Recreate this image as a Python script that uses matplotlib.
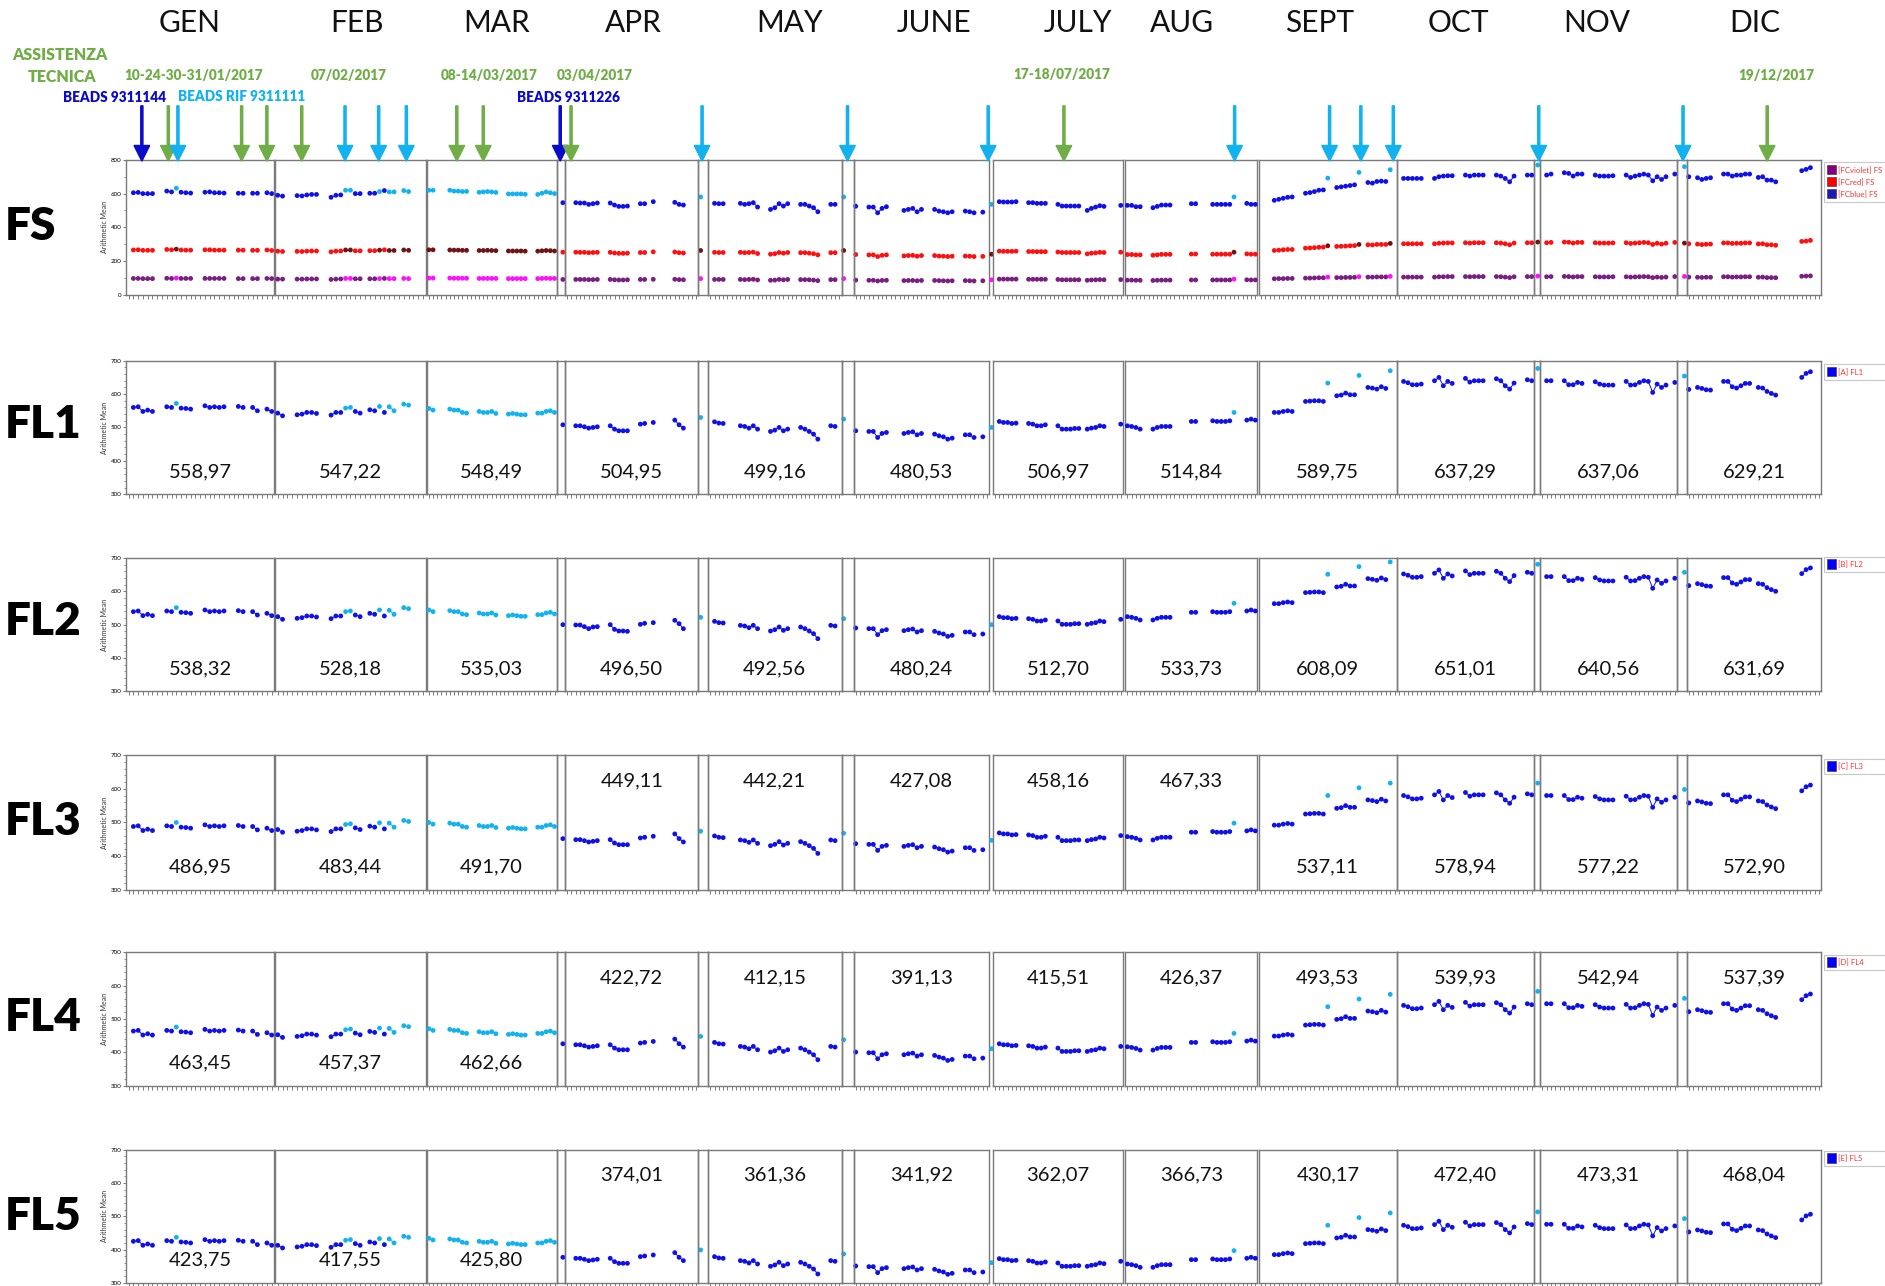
import matplotlib.pyplot as plt
from matplotlib.patches import Rectangle, FancyArrow

plt.rcParams['font.family'] = ['Lato', 'DejaVu Sans']

# reference drawn in a 1568 x 1069.5 grid, figure is 1885 x 1286
W, H = 1568, 1069.5

MONTHS = ['GEN', 'FEB', 'MAR', 'APR', 'MAY', 'JUNE', 'JULY', 'AUG', 'SEPT', 'OCT', 'NOV', 'DIC']

# measurement days inside each month panel (0 / 32 = point in the gap next to the panel)
DAYS = [
    [2, 3, 4, 5, 6, 9, 10, 11, 12, 13, 14, 17, 18, 19, 20, 21, 24, 25, 27, 28, 30, 31],
    [1, 2, 5, 6, 7, 8, 9, 12, 13, 14, 15, 16, 17, 18, 20, 21, 22, 23, 24, 25, 27, 28],
    [1, 2, 6, 7, 8, 9, 10, 13, 14, 15, 16, 17, 20, 21, 22, 23, 24, 27, 28, 29, 30, 31],
    [0, 3, 4, 5, 6, 7, 8, 11, 12, 13, 14, 15, 18, 19, 21, 26, 27, 28, 32],
    [2, 3, 4, 8, 9, 10, 11, 12, 15, 16, 17, 18, 19, 22, 23, 24, 25, 26, 29, 30, 32],
    [1, 4, 5, 6, 7, 8, 12, 13, 14, 15, 16, 19, 20, 21, 22, 23, 26, 27, 28, 30, 32],
    [2, 3, 4, 5, 6, 9, 10, 11, 12, 13, 16, 17, 18, 19, 20, 21, 23, 24, 25, 26, 27, 31],
    [1, 2, 3, 4, 7, 8, 9, 10, 11, 16, 17, 21, 22, 23, 24, 25, 26, 29, 30, 31],
    [4, 5, 6, 7, 8, 11, 12, 13, 14, 15, 16, 18, 19, 20, 21, 22, 23, 25, 26, 27, 28, 29, 30],
    [2, 3, 4, 5, 6, 9, 10, 11, 12, 13, 16, 17, 18, 19, 20, 23, 24, 25, 26, 27, 30, 31],
    [0, 2, 3, 6, 7, 8, 9, 10, 13, 14, 15, 16, 17, 20, 21, 22, 23, 24, 25, 26, 27, 28, 29, 31],
    [0, 1, 3, 4, 5, 6, 9, 10, 11, 12, 13, 14, 15, 17, 18, 19, 20, 21, 27, 28, 29],
]

# indexes of the points measured with reference beads (BEADS RIF)
RIF = [
    [7],
    [10, 11, 16, 18, 19, 20, 21],
    list(range(22)),
    [18],
    [20],
    [20],
    [],
    [16],
    [10, 16, 22],
    [],
    [0],
    [0],
]

FS_BLUE = [
    [605, 607, 600, 600, 600, 615, 610, 632, 608, 605, 603, 608, 610, 605, 605, 603, 602, 602, 602, 602, 605, 600],
    [590, 585, 588, 586, 592, 595, 595, 578, 590, 592, 620, 620, 600, 600, 602, 602, 612, 618, 610, 610, 618, 612],
    [620, 620, 620, 615, 615, 612, 613, 608, 610, 612, 610, 607, 598, 598, 598, 598, 596, 595, 602, 610, 605, 600],
    [546, 546, 544, 544, 536, 540, 544, 544, 532, 524, 524, 526, 540, 540, 552, 548, 536, 532, 580],
    [542, 540, 540, 542, 536, 540, 546, 520, 506, 516, 540, 526, 540, 536, 536, 526, 516, 492, 536, 536, 580],
    [525, 520, 520, 486, 512, 522, 500, 506, 512, 492, 506, 506, 496, 492, 486, 492, 496, 492, 486, 490, 536],
    [552, 550, 550, 550, 552, 546, 546, 542, 542, 542, 536, 526, 526, 526, 526, 526, 500, 512, 520, 528, 524, 530],
    [530, 530, 522, 522, 516, 524, 532, 532, 532, 540, 540, 536, 536, 536, 536, 536, 580, 542, 536, 536],
    [560, 566, 572, 578, 580, 602, 606, 612, 620, 622, 692, 636, 640, 644, 648, 652, 726, 666, 662, 672, 674, 672, 742],
    [690, 690, 690, 690, 690, 690, 700, 704, 706, 706, 710, 704, 710, 710, 710, 710, 704, 690, 670, 704, 710, 710],
    [770, 710, 716, 724, 720, 704, 716, 716, 710, 704, 704, 704, 706, 710, 696, 704, 710, 716, 710, 676, 700, 684, 700, 716],
    [760, 700, 694, 684, 690, 694, 716, 716, 704, 710, 710, 716, 716, 696, 700, 680, 680, 670, 736, 744, 754],
]

FS_RED = [
    [265, 266, 263, 263, 263, 268, 266, 270, 265, 264, 264, 266, 266, 264, 264, 264, 264, 264, 263, 263, 265, 262],
    [258, 256, 257, 256, 258, 259, 259, 254, 258, 259, 265, 265, 260, 260, 261, 261, 264, 266, 262, 262, 265, 263],
    [266, 266, 265, 264, 264, 263, 263, 262, 262, 263, 262, 261, 259, 259, 259, 259, 258, 258, 260, 262, 261, 259],
    [252, 252, 251, 251, 249, 250, 251, 251, 247, 245, 245, 246, 250, 250, 254, 253, 249, 247, 262],
    [251, 250, 250, 251, 249, 250, 252, 244, 240, 243, 250, 246, 250, 249, 249, 246, 243, 236, 249, 249, 262],
    [238, 236, 236, 226, 233, 236, 230, 232, 233, 228, 232, 232, 229, 228, 226, 228, 229, 228, 226, 227, 240],
    [258, 257, 257, 257, 258, 256, 256, 255, 255, 255, 253, 250, 250, 250, 250, 250, 242, 246, 248, 251, 250, 252],
    [238, 238, 236, 236, 234, 236, 239, 239, 239, 241, 241, 240, 240, 240, 240, 240, 252, 242, 240, 240],
    [262, 264, 266, 268, 268, 276, 277, 279, 281, 282, 290, 286, 287, 288, 290, 291, 298, 296, 295, 298, 298, 298, 304],
    [302, 302, 302, 302, 302, 302, 305, 306, 307, 307, 308, 306, 308, 308, 308, 308, 306, 302, 296, 306, 308, 308],
    [312, 308, 310, 312, 311, 306, 310, 310, 308, 306, 306, 306, 307, 308, 304, 306, 308, 310, 308, 298, 305, 300, 305, 310],
    [306, 302, 300, 297, 299, 300, 307, 307, 304, 305, 305, 307, 307, 301, 302, 296, 296, 293, 316, 318, 322],
]

FS_VIOLET = [
    [96, 96, 95, 95, 95, 97, 96, 98, 96, 96, 96, 96, 96, 96, 96, 96, 95, 95, 95, 95, 96, 95],
    [92, 92, 92, 92, 93, 93, 93, 90, 92, 93, 96, 96, 94, 94, 94, 94, 95, 96, 95, 95, 96, 95],
    [98, 98, 98, 97, 97, 97, 97, 96, 96, 96, 96, 96, 95, 95, 95, 95, 95, 95, 96, 97, 96, 96],
    [90, 90, 90, 90, 89, 89, 90, 90, 88, 87, 87, 88, 90, 90, 91, 91, 89, 88, 95],
    [90, 90, 90, 90, 89, 90, 91, 87, 85, 86, 90, 88, 90, 89, 89, 88, 86, 83, 89, 89, 95],
    [86, 85, 85, 81, 84, 85, 83, 84, 84, 82, 84, 84, 83, 82, 81, 82, 83, 82, 81, 82, 88],
    [92, 92, 92, 92, 92, 91, 91, 91, 91, 91, 90, 88, 88, 88, 88, 88, 85, 87, 88, 89, 88, 89],
    [86, 86, 85, 85, 84, 85, 86, 86, 86, 87, 87, 87, 87, 87, 87, 87, 92, 88, 87, 87],
    [94, 95, 95, 96, 96, 98, 98, 99, 100, 100, 104, 101, 101, 102, 102, 103, 106, 104, 104, 105, 105, 105, 108],
    [104, 104, 104, 104, 104, 104, 106, 106, 107, 107, 107, 106, 107, 107, 107, 107, 106, 104, 101, 106, 107, 107],
    [110, 106, 107, 108, 107, 105, 107, 107, 106, 105, 105, 105, 106, 106, 104, 105, 106, 107, 106, 101, 104, 102, 104, 107],
    [108, 104, 103, 102, 103, 103, 106, 106, 104, 105, 105, 106, 106, 103, 104, 101, 101, 100, 109, 110, 111],
]

FL1 = [
    [560, 562, 548, 552, 548, 562, 560, 572, 558, 557, 555, 565, 560, 562, 560, 562, 563, 560, 560, 550, 555, 548],
    [543, 535, 538, 540, 545, 545, 542, 537, 545, 545, 558, 560, 548, 543, 553, 550, 563, 545, 562, 550, 570, 567],
    [557, 552, 555, 552, 552, 545, 543, 548, 545, 545, 548, 542, 540, 542, 540, 538, 538, 543, 543, 548, 550, 545],
    [508, 505, 505, 502, 498, 500, 502, 505, 495, 490, 490, 490, 510, 512, 515, 522, 508, 498, 530],
    [517, 513, 512, 505, 503, 498, 505, 495, 488, 492, 500, 490, 495, 500, 495, 488, 480, 465, 505, 503, 525],
    [490, 488, 488, 470, 482, 485, 482, 485, 487, 478, 482, 480, 475, 472, 465, 468, 478, 478, 470, 472, 500],
    [518, 515, 515, 512, 513, 512, 510, 505, 505, 508, 505, 495, 495, 495, 497, 497, 495, 498, 500, 505, 503, 510],
    [505, 503, 500, 495, 495, 500, 503, 503, 503, 518, 518, 520, 518, 518, 518, 520, 545, 522, 525, 522],
    [545, 545, 548, 550, 548, 578, 579, 580, 580, 578, 633, 595, 597, 603, 598, 598, 656, 620, 618, 615, 622, 617, 670],
    [638, 634, 628, 628, 630, 640, 650, 625, 638, 632, 647, 636, 640, 640, 640, 646, 640, 625, 615, 633, 643, 640],
    [677, 640, 640, 640, 628, 628, 635, 632, 637, 630, 627, 627, 627, 638, 627, 628, 635, 640, 638, 605, 630, 620, 627, 635],
    [654, 614, 620, 617, 613, 612, 638, 638, 622, 618, 625, 632, 632, 620, 618, 608, 602, 597, 650, 662, 667],
]

FL2 = [
    [539, 541, 527, 531, 527, 541, 539, 551, 537, 536, 534, 544, 539, 541, 539, 541, 542, 539, 539, 529, 534, 527],
    [524, 516, 519, 521, 526, 526, 523, 518, 526, 526, 539, 541, 529, 524, 534, 531, 544, 526, 543, 531, 551, 548],
    [544, 539, 542, 539, 539, 532, 530, 535, 532, 532, 535, 529, 527, 529, 527, 525, 525, 530, 530, 535, 537, 532],
    [500, 499, 499, 494, 488, 493, 494, 500, 486, 481, 481, 480, 501, 504, 506, 513, 503, 488, 522],
    [510, 506, 505, 498, 496, 491, 498, 488, 481, 485, 493, 483, 488, 493, 488, 481, 473, 458, 498, 496, 518],
    [490, 488, 488, 470, 482, 485, 482, 485, 487, 478, 482, 480, 475, 472, 465, 468, 478, 478, 470, 472, 500],
    [524, 521, 521, 518, 519, 518, 516, 511, 511, 514, 511, 501, 501, 501, 503, 503, 501, 504, 506, 511, 509, 516],
    [524, 522, 519, 514, 514, 519, 522, 522, 522, 537, 537, 539, 537, 537, 537, 539, 564, 541, 544, 541],
    [563, 563, 566, 568, 566, 596, 597, 598, 598, 596, 651, 613, 615, 621, 616, 616, 674, 638, 636, 633, 640, 635, 688],
    [652, 648, 642, 642, 644, 654, 664, 639, 652, 646, 661, 650, 654, 654, 654, 660, 654, 639, 629, 647, 657, 654],
    [681, 644, 644, 644, 632, 632, 639, 636, 641, 634, 631, 631, 631, 642, 631, 632, 639, 644, 642, 609, 634, 624, 631, 639],
    [657, 617, 623, 620, 616, 615, 641, 641, 625, 621, 628, 635, 635, 623, 621, 611, 605, 600, 653, 665, 670],
]

FL3 = [
    [488, 490, 476, 480, 476, 490, 488, 500, 486, 485, 483, 493, 488, 490, 488, 490, 491, 488, 488, 478, 483, 476],
    [479, 471, 474, 476, 481, 481, 478, 473, 481, 481, 494, 496, 484, 479, 489, 486, 499, 481, 498, 486, 506, 503],
    [500, 495, 498, 495, 495, 488, 486, 491, 488, 488, 491, 485, 483, 485, 483, 481, 481, 486, 486, 491, 493, 488],
    [452, 449, 449, 446, 442, 444, 446, 449, 439, 434, 434, 434, 454, 456, 459, 466, 452, 442, 474],
    [460, 456, 455, 448, 446, 441, 448, 438, 431, 435, 443, 433, 438, 443, 438, 431, 423, 408, 448, 446, 468],
    [437, 435, 435, 417, 429, 432, 429, 432, 434, 425, 429, 427, 422, 419, 412, 415, 425, 425, 417, 419, 447],
    [469, 466, 466, 463, 464, 463, 461, 456, 456, 459, 456, 446, 446, 446, 448, 448, 446, 449, 451, 456, 454, 461],
    [458, 456, 453, 448, 448, 453, 456, 456, 456, 471, 471, 473, 471, 471, 471, 473, 498, 475, 478, 475],
    [492, 492, 495, 497, 495, 525, 526, 527, 527, 525, 580, 542, 544, 550, 545, 545, 603, 567, 565, 562, 569, 564, 617],
    [580, 576, 570, 570, 572, 582, 592, 567, 580, 574, 589, 578, 582, 582, 582, 588, 582, 567, 557, 575, 585, 582],
    [617, 580, 580, 580, 568, 568, 575, 572, 577, 570, 567, 567, 567, 578, 567, 568, 575, 580, 578, 545, 570, 560, 567, 575],
    [598, 558, 564, 561, 557, 556, 582, 582, 566, 562, 569, 576, 576, 564, 562, 552, 546, 541, 594, 606, 611],
]

FL4 = [
    [464, 466, 452, 456, 452, 466, 464, 476, 462, 461, 459, 469, 464, 466, 464, 466, 467, 464, 464, 454, 459, 452],
    [453, 445, 448, 450, 455, 455, 452, 447, 455, 455, 468, 470, 458, 453, 463, 460, 473, 455, 472, 460, 480, 477],
    [471, 466, 469, 466, 466, 459, 457, 462, 459, 459, 462, 456, 454, 456, 454, 452, 452, 457, 457, 462, 464, 459],
    [426, 423, 423, 420, 416, 418, 420, 423, 413, 408, 408, 408, 428, 430, 433, 440, 426, 416, 448],
    [430, 426, 425, 418, 416, 411, 418, 408, 401, 405, 413, 403, 408, 413, 408, 401, 393, 378, 418, 416, 438],
    [401, 399, 399, 381, 393, 396, 393, 396, 398, 389, 393, 391, 386, 383, 376, 379, 389, 389, 381, 383, 411],
    [426, 423, 423, 420, 421, 420, 418, 413, 413, 416, 413, 403, 403, 403, 405, 405, 403, 406, 408, 413, 411, 418],
    [417, 415, 412, 407, 407, 412, 415, 415, 415, 430, 430, 432, 430, 430, 430, 432, 457, 434, 437, 434],
    [449, 449, 452, 454, 452, 482, 483, 484, 484, 482, 537, 499, 501, 507, 502, 502, 560, 524, 522, 519, 526, 521, 574],
    [541, 537, 531, 531, 533, 543, 553, 528, 541, 535, 550, 539, 543, 543, 543, 549, 543, 528, 518, 536, 546, 543],
    [583, 546, 546, 546, 534, 534, 541, 538, 543, 536, 533, 533, 533, 544, 533, 534, 541, 546, 544, 511, 536, 526, 533, 541],
    [562, 522, 528, 525, 521, 520, 546, 546, 530, 526, 533, 540, 540, 528, 526, 516, 510, 505, 558, 570, 575],
]

FL5 = [
    [425, 427, 413, 417, 413, 427, 425, 437, 423, 422, 420, 430, 425, 427, 425, 427, 428, 425, 425, 415, 420, 413],
    [413, 405, 408, 410, 415, 415, 412, 407, 415, 415, 428, 430, 418, 413, 423, 420, 433, 415, 432, 420, 440, 437],
    [434, 429, 432, 429, 429, 422, 420, 425, 422, 422, 425, 419, 417, 419, 417, 415, 415, 420, 420, 425, 427, 422],
    [377, 374, 374, 371, 367, 369, 371, 374, 364, 359, 359, 359, 379, 381, 384, 391, 377, 367, 399],
    [379, 375, 374, 367, 365, 360, 367, 357, 350, 354, 362, 352, 357, 362, 357, 350, 342, 327, 367, 365, 387],
    [351, 349, 349, 331, 343, 346, 343, 346, 348, 339, 343, 341, 336, 333, 326, 329, 339, 339, 331, 333, 361],
    [373, 370, 370, 367, 368, 367, 365, 360, 360, 363, 360, 350, 350, 350, 352, 352, 350, 353, 355, 360, 358, 365],
    [357, 355, 352, 347, 347, 352, 355, 355, 355, 370, 370, 372, 370, 370, 370, 372, 397, 374, 377, 374],
    [385, 385, 388, 390, 388, 418, 419, 420, 420, 418, 473, 435, 437, 443, 438, 438, 496, 460, 458, 455, 462, 457, 510],
    [473, 469, 463, 463, 465, 475, 485, 460, 473, 467, 482, 471, 475, 475, 475, 481, 475, 460, 450, 468, 478, 475],
    [513, 476, 476, 476, 464, 464, 471, 468, 473, 466, 463, 463, 463, 474, 463, 464, 471, 476, 474, 441, 466, 456, 463, 471],
    [493, 453, 459, 456, 452, 451, 477, 477, 461, 457, 464, 471, 471, 459, 457, 447, 441, 436, 489, 501, 506],
]

FL1_MEAN = ['558,97', '547,22', '548,49', '504,95', '499,16', '480,53', '506,97', '514,84', '589,75', '637,29', '637,06', '629,21']
FL2_MEAN = ['538,32', '528,18', '535,03', '496,50', '492,56', '480,24', '512,70', '533,73', '608,09', '651,01', '640,56', '631,69']
FL3_MEAN = ['486,95', '483,44', '491,70', '449,11', '442,21', '427,08', '458,16', '467,33', '537,11', '578,94', '577,22', '572,90']
FL4_MEAN = ['463,45', '457,37', '462,66', '422,72', '412,15', '391,13', '415,51', '426,37', '493,53', '539,93', '542,94', '537,39']
FL5_MEAN = ['423,75', '417,55', '425,80', '374,01', '361,36', '341,92', '362,07', '366,73', '430,17', '472,40', '473,31', '468,04']

# layout (in the 1568 x 1069.5 grid)
PANEL_X = [(105, 228), (229, 354), (355, 463), (470, 581), (589, 700), (710, 823),
           (826, 934), (936, 1046), (1047, 1162), (1162, 1276), (1281, 1395), (1403, 1515)]
SLIVER_X = [(463, 470), (581, 589), (700, 710), (1276, 1281), (1395, 1403)]
MONTH_LABEL_X = [158, 297, 413, 527, 657, 777, 897, 983, 1098, 1213, 1328, 1460]

BLUE, CYAN = '#1010E8', '#12B2F0'
RED, DARKRED = '#FF1010', '#6E1414'
VIOLET, MAGENTA = '#7A1F82', '#FF10FF'
GREEN, NAVY = '#70AD47', '#0A0ACD'


def fig_box(x0, x1, y0, y1):
    return [x0 / W, 1 - y1 / H, (x1 - x0) / W, (y1 - y0) / H]


def draw_series(ax, days, vals, rif, col, col_rif):
    cols = [col_rif if i in rif else col for i in range(len(days))]
    for i in range(len(days) - 1):
        if days[i + 1] - days[i] == 1 and cols[i] == cols[i + 1]:
            ax.plot(days[i:i + 2], vals[i:i + 2], color=cols[i], lw=0.7, zorder=2)
    ax.scatter(days, vals, c=cols, s=12, zorder=3, clip_on=False, edgecolors='none')


def style_panel(ax, k, ylim, major, minor):
    ax.set_facecolor('none')
    ax.set_xlim(0.5, 31.5)
    ax.set_ylim(*ylim)
    ax.set_xticks(range(1, 32))
    ax.set_xticklabels([])
    ax.tick_params(axis='x', direction='out', length=3, width=0.6, color='#666666')
    for s in ax.spines.values():
        s.set_color('#7a7a7a')
        s.set_linewidth(1.0)
    if k == 0:
        ax.set_yticks(major)
        ax.set_yticks(minor, minor=True)
        ax.tick_params(axis='y', direction='out', length=2.5, width=0.6, color='#666666',
                       labelsize=4.5, pad=1)
        ax.tick_params(axis='y', which='minor', length=1.5, width=0.5, color='#666666')
        ax.set_ylabel('Arithmetic Mean', fontsize=5, labelpad=2, color='#333333')
    else:
        ax.set_yticks([])


fig = plt.figure(figsize=(18.85, 12.86), dpi=100)

rows = [
    ('FS', 133, 245, (0, 800), [0, 200, 400, 600, 800], list(range(0, 801, 100)), None, None),
    ('FL1', 300, 411, (300, 700), list(range(300, 701, 100)), list(range(300, 701, 20)), FL1, FL1_MEAN),
    ('FL2', 464, 575, (300, 700), list(range(300, 701, 100)), list(range(300, 701, 20)), FL2, FL2_MEAN),
    ('FL3', 628, 740, (300, 700), list(range(300, 701, 100)), list(range(300, 701, 20)), FL3, FL3_MEAN),
    ('FL4', 792, 903, (300, 700), list(range(300, 701, 100)), list(range(300, 701, 20)), FL4, FL4_MEAN),
    ('FL5', 956, 1067, (300, 700), list(range(300, 701, 100)), list(range(300, 701, 20)), FL5, FL5_MEAN),
]
# months whose mean label sits at the top of the panel
TOP_LABELS = {'FL3': range(3, 8), 'FL4': range(3, 12), 'FL5': range(3, 12)}

for name, y0, y1, ylim, major, minor, data, means in rows:
    for k, (x0, x1) in enumerate(PANEL_X):
        ax = fig.add_axes(fig_box(x0, x1, y0, y1))
        style_panel(ax, k, ylim, major, minor)
        d = DAYS[k]
        if data is None:
            draw_series(ax, d, FS_VIOLET[k], RIF[k], VIOLET, MAGENTA)
            draw_series(ax, d, FS_RED[k], RIF[k], RED, DARKRED)
            draw_series(ax, d, FS_BLUE[k], RIF[k], BLUE, CYAN)
        else:
            draw_series(ax, d, data[k], RIF[k], BLUE, CYAN)
            ty = 0.81 if k in TOP_LABELS.get(name, []) else 0.17
            ax.text(0.5, ty, means[k], transform=ax.transAxes, ha='center', va='center',
                    fontsize=14.5, color='#111111')
    for x0, x1 in SLIVER_X:
        sx = fig.add_axes(fig_box(x0, x1, y0, y1))
        sx.set_facecolor('none')
        sx.set_xticks([])
        sx.set_yticks([])
        for s in sx.spines.values():
            s.set_color('#7a7a7a')
            s.set_linewidth(1.0)

# overlay for headers, arrows, labels and legends
ov = fig.add_axes([0, 0, 1, 1], zorder=10)
ov.set_xlim(0, W)
ov.set_ylim(H, 0)
ov.axis('off')
ov.set_facecolor('none')

for m, x in zip(MONTHS, MONTH_LABEL_X):
    ov.text(x, 19, m, ha='center', va='center', fontsize=21.5, color='#111111')

row_label_y = [188, 353, 517, 683, 846, 1012]
for (name, *_), y in zip(rows, row_label_y):
    ov.text(4, y, name, ha='left', va='center', fontsize=33, fontweight='heavy', color='black')

# annotations
ov.text(50, 46, 'ASSISTENZA', ha='center', va='center', fontsize=11.5, fontweight='heavy', color=GREEN)
ov.text(52, 64, 'TECNICA', ha='center', va='center', fontsize=11.5, fontweight='heavy', color=GREEN)
for txt, x, y in [('10-24-30-31/01/2017', 161, 63), ('07/02/2017', 290, 63), ('08-14/03/2017', 407, 63),
                  ('03/04/2017', 495, 63), ('17-18/07/2017', 883, 62), ('19/12/2017', 1478, 63)]:
    ov.text(x, y, txt, ha='center', va='center', fontsize=9.8, fontweight='heavy', color=GREEN)
ov.text(95, 81, 'BEADS 9311144', ha='center', va='center', fontsize=9.8, fontweight='heavy', color=NAVY)
ov.text(201, 80, 'BEADS RIF 9311111', ha='center', va='center', fontsize=9.8, fontweight='heavy', color=CYAN)
ov.text(473, 81, 'BEADS 9311226', ha='center', va='center', fontsize=9.8, fontweight='heavy', color=NAVY)

arrows = {
    NAVY: [118, 466],
    GREEN: [140, 201, 222, 251, 380, 402, 475, 885, 1470],
    CYAN: [148, 287, 315, 338, 584, 705, 822, 1027, 1106, 1132, 1159, 1280, 1400],
}
for col, xs in arrows.items():
    for x in xs:
        ov.add_patch(FancyArrow(x, 88, 0, 46, width=1.8, head_width=13, head_length=13,
                                length_includes_head=True, color=col, zorder=5))


# legends at the right edge
def legend(y_top, entries):
    ov.add_patch(Rectangle((1517, y_top), 60, 10 * len(entries) + 3, facecolor='white',
                           edgecolor='#c8c8c8', lw=0.8))
    for i, (col, txt) in enumerate(entries):
        yy = y_top + 2 + 10 * i
        ov.add_patch(Rectangle((1519.5, yy), 7.5, 8, facecolor=col, edgecolor='#444444', lw=0.5))
        ov.text(1529, yy + 4.5, txt, ha='left', va='center', fontsize=5.6, color='#FF3030')


legend(135, [('#800080', '[FCviolet] FS'), ('#FF0000', '[FCred] FS'), ('#1A1AB0', '[FCblue] FS')])
for y, txt in [(303, '[A] FL1'), (463, '[B] FL2'), (631, '[C] FL3'), (794, '[D] FL4'), (957, '[E] FL5')]:
    legend(y, [('#0000FF', txt)])

fig.savefig('out.png', dpi=100)
